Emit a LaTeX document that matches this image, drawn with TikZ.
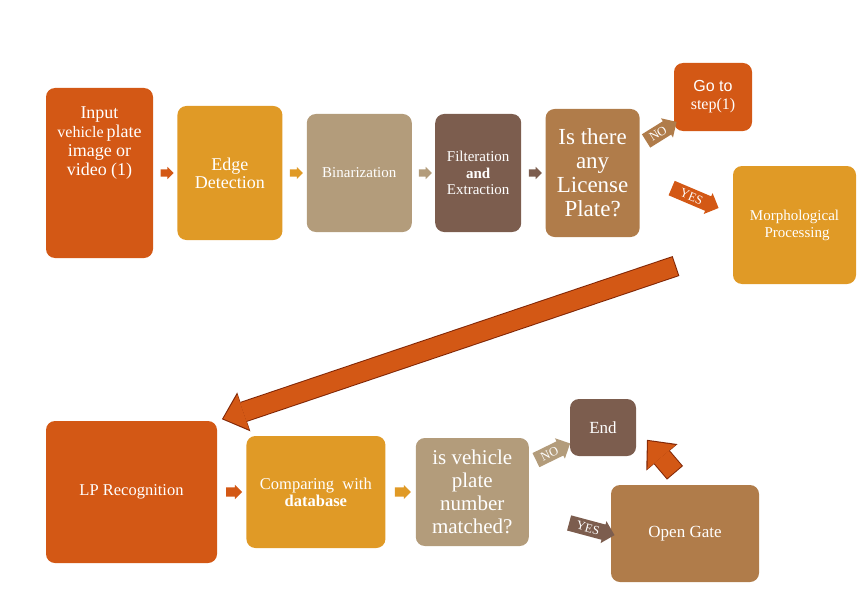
\documentclass[tikz,border=0pt]{standalone}
\usepackage{fontspec}
\setmainfont{Liberation Serif}
\setsansfont{Liberation Sans}
\usetikzlibrary{positioning,calc,shapes.arrows,arrows.meta}

\definecolor{rust}{RGB}{211,88,21}
\definecolor{amber}{RGB}{224,154,38}
\definecolor{sand}{RGB}{179,156,123}
\definecolor{cocoa}{RGB}{124,93,78}
\definecolor{copper}{RGB}{176,124,74}
\definecolor{rim}{RGB}{128,38,6}

\newcommand{\fs}[2]{\fontsize{#1}{#2}\selectfont}

\tikzset{
  box/.style={rounded corners=9pt, text=white, align=center, inner sep=2pt},
  boxtxt/.style={text=white, align=center, inner sep=0pt},
  smallarr/.style={single arrow, minimum height=13pt, minimum width=0pt,
    inner xsep=0pt, inner ysep=3.5pt, single arrow head extend=2.5pt},
  tagarr/.style={single arrow, text=white, font=\fs{12.5}{12.5}, inner xsep=1.5pt,
    inner ysep=3.3pt, text height=8.5pt, text depth=0.2pt,
    single arrow head extend=3.5pt, single arrow head indent=0pt},
  fatarrow/.style={draw=rust, line width=19pt, shorten <=1pt, shorten >=#1+1.5pt,
    -{Triangle[length=21pt,width=37pt,line width=0pt]},
    preaction={draw=rim, line width=21pt, shorten <=0pt, shorten >=#1,
      -{Triangle[length=23pt,width=41pt,line width=0pt]}}},
  fatarrow/.default=0pt
}

\begin{document}
\begin{tikzpicture}[x=1pt,y=-1pt]
\useasboundingbox (0,0) rectangle (861,599);

% top row
\node[box, fill=rust, minimum width=107pt, minimum height=170pt] (input) at (99.5,173) {};
\node[boxtxt, font=\fs{18}{19}] (inputtxt) at ([yshift=30pt]input.center)
  {Input\\{\fs{16}{19}vehicle}\,plate\\image or\\video (1)};
\node[box, fill=amber, minimum width=105pt, minimum height=134pt, font=\fs{18}{18},
  right=24pt of input] (edge) {Edge\\Detection};
\node[box, fill=sand, minimum width=105pt, minimum height=118pt, font=\fs{15}{17},
  right=24pt of edge] (bin) {Binarization};
\node[box, fill=cocoa, minimum width=86pt, minimum height=118pt, font=\fs{15}{16.5},
  right=23pt of bin] (filt) {Filteration\\\textbf{and}\\Extraction};
\node[box, fill=copper, minimum width=94pt, minimum height=128pt, font=\fs{23}{24},
  right=24pt of filt] (isplate) {Is there\\any\\License\\Plate?};
\node[box, fill=rust, minimum width=78pt, minimum height=68pt, font=\fs{16}{18}]
  (goto) at (713,97) {{\sffamily Go to}\\step(1)};
\node[box, fill=amber, minimum width=123pt, minimum height=118pt, font=\fs{15}{17}]
  (morph) at (794.5,225) {Morphological\\\hspace*{5pt}Processing};

\node[smallarr, fill=rust] (a1) at ($(input.east)!.5!(edge.west)$) {};
\node[smallarr, fill=amber] (a2) at ($(edge.east)!.5!(bin.west)$) {};
\node[smallarr, fill=sand] (a3) at ($(bin.east)!.5!(filt.west)$) {};
\node[smallarr, fill=cocoa] (a4) at ($(filt.east)!.5!(isplate.west)$) {};

\node[tagarr, fill=copper, rotate=32, minimum height=36pt] (no1) at (658,133.5) {NO};
\node[tagarr, fill=rust, rotate=-23, minimum height=51pt] (yes1) at (691.5,196.5) {YES};

% bottom row
\node[box, fill=rust, minimum width=171pt, minimum height=142pt, font=\fs{16.5}{18}]
  (lp) at (131.5,492) {LP Recognition};
\node[box, fill=amber, minimum width=139pt, minimum height=112pt, font=\fs{16.5}{17},
  right=29pt of lp] (comp) {Comparing~~with\\\textbf{database}};
\node[box, fill=sand, minimum width=113pt, minimum height=108pt, font=\fs{21}{23},
  right=30pt of comp] (match) {is vehicle\\plate\\number\\matched?};
\node[box, fill=cocoa, minimum width=66pt, minimum height=57pt, font=\fs{17}{18}]
  (end) at (603,427.5) {End};
\node[box, fill=copper, minimum width=148pt, minimum height=97pt, font=\fs{17}{18}]
  (gate) at (685,533.5) {Open Gate};

\node[smallarr, fill=rust, minimum height=16pt, inner ysep=4.5pt] (a5) at ($(lp.east)!.5!(comp.west)$) {};
\node[smallarr, fill=amber, minimum height=16pt, inner ysep=4.5pt] (a6) at ($(comp.east)!.5!(match.west)$) {};

\node[tagarr, fill=sand, rotate=26, minimum height=38pt] (no2) at (549.5,453.5) {NO};
\node[tagarr, fill=cocoa, rotate=-15, minimum height=47pt] (yes2) at (588,528) {YES};

% block arrows
\coordinate (bigtail) at (676,266);
\draw[fatarrow=5pt] (bigtail) -- (lp.north east);
\draw[fatarrow] ([shift={(-10pt,12pt)}]gate.north) -- ++(-28,-33);
\end{tikzpicture}
\end{document}
